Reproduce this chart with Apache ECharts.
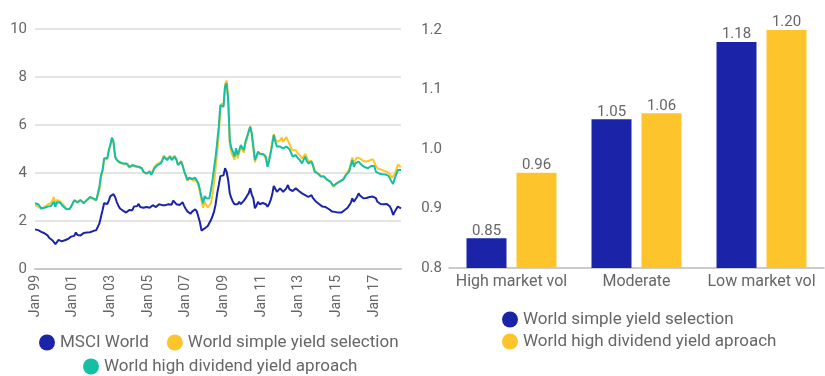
<!DOCTYPE html>
<html>
<head>
<meta charset="utf-8">
<script src="https://cdn.jsdelivr.net/npm/echarts@6/dist/echarts.min.js"></script>
<style>
  html, body { margin: 0; padding: 0; background: #fff; }
  #chart { width: 825px; height: 376px; }
</style>
</head>
<body>
<div id="chart"></div>
<script>
// monthly data, Jan 1999 .. Jun 2018
const startYear = 1999
const tickLabels = ['Jan 99', 'Jan 01', 'Jan 03', 'Jan 05', 'Jan 07', 'Jan 09', 'Jan 11', 'Jan 13', 'Jan 15', 'Jan 17']

const msciWorld = [
  1.65, 1.66, 1.62, 1.60, 1.55, 1.50, 1.49, 1.45, 1.40, 1.30, 1.25, 1.20,
  1.14, 1.04, 1.12, 1.21, 1.18, 1.15, 1.14, 1.20, 1.18, 1.25, 1.28, 1.35,
  1.42, 1.38, 1.52, 1.42, 1.39, 1.40, 1.45, 1.50, 1.55, 1.52, 1.50, 1.53,
  1.53, 1.58, 1.60, 1.62, 1.70, 1.90, 2.18, 2.45, 2.74, 2.80, 2.71, 2.85,
  3.04, 3.10, 3.12, 3.00, 2.80, 2.65, 2.53, 2.45, 2.43, 2.40, 2.35, 2.42,
  2.46, 2.38, 2.45, 2.60, 2.55, 2.62, 2.71, 2.58, 2.55, 2.55, 2.62, 2.58,
  2.64, 2.55, 2.62, 2.66, 2.60, 2.58, 2.65, 2.70, 2.74, 2.66, 2.62, 2.66,
  2.64, 2.70, 2.75, 2.68, 2.85, 2.78, 2.70, 2.65, 2.67, 2.72, 2.78, 2.62,
  2.50, 2.40, 2.32, 2.30, 2.39, 2.35, 2.49, 2.40, 2.18, 1.95, 1.60, 1.62,
  1.69, 1.72, 1.79, 1.85, 2.04, 2.20, 2.39, 2.70, 3.15, 3.50, 3.87, 3.80,
  3.90, 4.20, 4.05, 3.70, 3.15, 2.95, 2.80, 2.70, 2.62, 2.70, 2.80, 2.70,
  2.74, 2.85, 2.94, 3.05, 3.15, 3.36, 3.10, 2.94, 2.53, 2.65, 2.80, 2.70,
  2.67, 2.75, 2.80, 2.70, 2.60, 2.70, 2.87, 3.10, 3.46, 3.54, 3.22, 3.30,
  3.36, 3.30, 3.22, 3.30, 3.36, 3.50, 3.32, 3.28, 3.25, 3.30, 3.36, 3.30,
  3.25, 3.20, 3.15, 3.10, 3.08, 3.05, 3.00, 3.05, 3.08, 2.95, 2.87, 2.80,
  2.74, 2.70, 2.65, 2.60, 2.62, 2.58, 2.57, 2.50, 2.46, 2.40, 2.32, 2.38,
  2.43, 2.35, 2.29, 2.35, 2.39, 2.45, 2.50, 2.55, 2.60, 2.75, 2.94, 2.80,
  2.85, 3.00, 3.15, 3.05, 2.97, 2.95, 2.94, 2.96, 2.98, 3.00, 2.98, 3.02,
  3.08, 2.95, 2.80, 2.75, 2.71, 2.72, 2.70, 2.68, 2.71, 2.65, 2.60, 2.46,
  2.25, 2.39, 2.50, 2.60, 2.64, 2.53
]

const simpleYield = [
  2.65, 2.62, 2.60, 2.55, 2.50, 2.55, 2.58, 2.62, 2.68, 2.70, 2.75, 2.85,
  3.00, 2.72, 2.88, 2.85, 2.82, 2.78, 2.68, 2.60, 2.52, 2.52, 2.50, 2.58,
  2.70, 2.85, 2.82, 2.80, 2.82, 2.88, 2.82, 2.76, 2.82, 2.88, 2.95, 2.98,
  2.96, 2.92, 2.88, 2.85, 2.88, 3.30, 3.80, 4.05, 4.55, 4.60, 4.58, 4.90,
  5.15, 5.42, 5.25, 4.70, 4.55, 4.45, 4.42, 4.40, 4.38, 4.35, 4.38, 4.40,
  4.22, 4.28, 4.30, 4.28, 4.26, 4.22, 4.24, 4.28, 4.18, 4.04, 4.08, 3.96,
  4.00, 4.08, 3.95, 4.10, 4.25, 4.30, 4.38, 4.40, 4.45, 4.55, 4.72, 4.65,
  4.58, 4.65, 4.72, 4.60, 4.65, 4.72, 4.58, 4.36, 4.42, 4.50, 4.32, 4.08,
  3.88, 3.68, 3.75, 3.80, 3.72, 3.66, 3.75, 3.80, 3.50, 3.20, 2.85, 2.55,
  2.80, 2.65, 2.55, 2.60, 2.75, 3.10, 3.60, 4.20, 4.90, 5.60, 6.70, 6.90,
  6.80, 7.70, 7.85, 7.10, 5.20, 4.85, 4.70, 4.55, 4.95, 4.60, 4.85, 5.10,
  4.95, 4.85, 5.25, 5.40, 5.75, 5.95, 5.60, 5.05, 4.45, 4.65, 4.85, 4.80,
  4.80, 4.82, 4.78, 4.72, 4.30, 4.55, 4.90, 5.30, 5.62, 5.40, 5.30, 5.25,
  5.35, 5.47, 5.30, 5.40, 5.50, 5.35, 5.20, 5.05, 4.95, 4.95, 4.95, 4.85,
  4.80, 4.70, 4.60, 4.70, 4.80, 4.65, 4.50, 4.52, 4.50, 4.35, 4.10, 4.02,
  4.00, 3.92, 3.88, 3.90, 3.86, 3.78, 3.72, 3.70, 3.64, 3.55, 3.42, 3.48,
  3.57, 3.60, 3.66, 3.70, 3.74, 3.82, 3.95, 4.05, 4.15, 4.40, 4.65, 4.40,
  4.55, 4.65, 4.70, 4.60, 4.55, 4.50, 4.45, 4.48, 4.50, 4.52, 4.50, 4.58,
  4.60, 4.30, 4.20, 4.18, 4.15, 4.12, 4.10, 4.08, 4.05, 4.00, 3.95, 3.80,
  3.75, 3.95, 4.15, 4.35, 4.30, 4.25
]

const highDividend = [
  2.74, 2.72, 2.70, 2.62, 2.53, 2.55, 2.55, 2.58, 2.60, 2.60, 2.62, 2.70,
  2.80, 2.60, 2.78, 2.80, 2.77, 2.70, 2.60, 2.55, 2.49, 2.52, 2.50, 2.60,
  2.74, 2.87, 2.80, 2.77, 2.80, 2.87, 2.80, 2.74, 2.80, 2.87, 2.95, 3.00,
  2.98, 2.94, 2.90, 2.87, 2.95, 3.43, 3.90, 4.12, 4.61, 4.65, 4.61, 4.96,
  5.20, 5.48, 5.30, 4.68, 4.55, 4.47, 4.45, 4.43, 4.40, 4.37, 4.40, 4.43,
  4.26, 4.30, 4.33, 4.30, 4.29, 4.25, 4.26, 4.30, 4.20, 4.06, 4.10, 3.98,
  4.00, 4.06, 3.92, 4.05, 4.20, 4.25, 4.33, 4.35, 4.40, 4.50, 4.68, 4.60,
  4.54, 4.60, 4.68, 4.54, 4.60, 4.68, 4.55, 4.33, 4.40, 4.47, 4.30, 4.06,
  3.90, 3.71, 3.80, 3.85, 3.75, 3.71, 3.80, 3.85, 3.57, 3.30, 3.00, 2.74,
  3.04, 2.95, 2.87, 2.94, 3.30, 3.71, 4.20, 4.68, 5.30, 5.93, 6.83, 6.90,
  6.76, 7.60, 7.74, 7.04, 5.37, 5.03, 4.89, 4.68, 5.03, 4.75, 4.95, 5.17,
  5.05, 4.96, 5.31, 5.37, 5.72, 5.93, 5.65, 5.10, 4.54, 4.70, 4.89, 4.80,
  4.75, 4.79, 4.72, 4.68, 4.26, 4.50, 4.82, 5.17, 5.58, 5.31, 5.10, 5.03,
  5.10, 5.17, 5.03, 5.08, 5.10, 5.05, 4.99, 4.85, 4.68, 4.72, 4.75, 4.65,
  4.61, 4.50, 4.40, 4.55, 4.68, 4.50, 4.40, 4.45, 4.47, 4.30, 4.06, 4.00,
  3.98, 3.90, 3.85, 3.88, 3.85, 3.78, 3.71, 3.68, 3.64, 3.55, 3.46, 3.50,
  3.57, 3.60, 3.64, 3.68, 3.71, 3.80, 3.92, 4.00, 4.06, 4.30, 4.54, 4.26,
  4.40, 4.40, 4.47, 4.40, 4.33, 4.28, 4.24, 4.22, 4.20, 4.25, 4.29, 4.30,
  4.29, 4.06, 3.98, 3.98, 3.98, 3.95, 3.92, 3.94, 3.92, 3.88, 3.85, 3.64,
  3.54, 3.78, 3.95, 4.12, 4.20, 4.12
]

// bar chart
const regimes = ['High market vol', 'Moderate', 'Low market vol']
const simpleYieldRatio = [0.85, 1.05, 1.18]
const highDividendRatio = [0.96, 1.06, 1.20]

const months = ['Jan', 'Feb', 'Mar', 'Apr', 'May', 'Jun', 'Jul', 'Aug', 'Sep', 'Oct', 'Nov', 'Dec']
const dates = msciWorld.map((v, i) => {
  const y = startYear + Math.floor(i / 12)
  return months[i % 12] + ' ' + String(y).slice(2)
})

const navy = '#1B24A8'
const gold = '#FDC52B'
const teal = '#14BFA6'
const textGray = '#666'
const font = 'Roboto'

const legendText = { fontSize: 17, color: textGray, fontFamily: font }

const myChart = echarts.init(document.getElementById('chart'))
const option = {
  animation: false,
  textStyle: { fontFamily: font },
  legend: [
    {
      data: ['MSCI World', 'World simple yield selection'],
      left: 34,
      top: 329,
      icon: 'circle',
      itemWidth: 16,
      itemHeight: 16,
      itemGap: 18,
      textStyle: legendText,
    },
    {
      data: ['World high dividend yield aproach'],
      left: 78,
      top: 353,
      icon: 'circle',
      itemWidth: 16,
      itemHeight: 16,
      textStyle: legendText,
    },
    {
      data: ['Simple yield bars', 'High dividend bars'],
      formatter: (name) => name === 'Simple yield bars' ? 'World simple yield selection' : 'World high dividend yield aproach',
      orient: 'vertical',
      left: 497,
      top: 306,
      icon: 'circle',
      itemWidth: 16,
      itemHeight: 16,
      itemGap: 5,
      textStyle: legendText,
    },
  ],
  grid: [
    { left: 35, top: 29, width: 366, height: 240 },
    { left: 449, top: 30, width: 375, height: 238 },
  ],
  xAxis: [
    {
      type: 'category',
      gridIndex: 0,
      data: dates,
      boundaryGap: false,
      axisLine: { lineStyle: { color: '#c8c8c8', width: 2 } },
      axisTick: { show: false },
      axisLabel: {
        rotate: 90,
        interval: (idx, val) => tickLabels.indexOf(val) >= 0,
        color: textGray,
        fontSize: 14,
        margin: 6,
        fontFamily: font,
      },
      splitLine: { show: false },
    },
    {
      type: 'category',
      gridIndex: 1,
      data: regimes,
      axisLine: { lineStyle: { color: '#bbb', width: 1.5 } },
      axisTick: { show: false },
      axisLabel: { color: textGray, fontSize: 16, margin: 6, interval: 0, fontFamily: font },
    },
  ],
  yAxis: [
    {
      type: 'value',
      gridIndex: 0,
      min: 0,
      max: 10,
      interval: 2,
      axisLine: { show: false },
      axisTick: { show: false },
      axisLabel: { color: textGray, fontSize: 15, margin: 8, fontFamily: font },
      splitLine: { lineStyle: { color: '#e4e4e4', width: 2 } },
    },
    {
      type: 'value',
      gridIndex: 1,
      min: 0.8,
      max: 1.2,
      interval: 0.1,
      axisLine: { show: false },
      axisTick: { show: false },
      axisLabel: {
        color: textGray,
        fontSize: 15,
        margin: 7,
        fontFamily: font,
        formatter: (v) => v.toFixed(1),
      },
      splitLine: { show: false },
    },
  ],
  series: [
    {
      name: 'MSCI World',
      type: 'line',
      xAxisIndex: 0,
      yAxisIndex: 0,
      data: msciWorld,
      showSymbol: false,
      color: navy,
      lineStyle: { width: 2, color: navy },
      z: 3,
    },
    {
      name: 'World simple yield selection',
      type: 'line',
      xAxisIndex: 0,
      yAxisIndex: 0,
      data: simpleYield,
      showSymbol: false,
      color: gold,
      lineStyle: { width: 2, color: gold },
      z: 2,
    },
    {
      name: 'World high dividend yield aproach',
      type: 'line',
      xAxisIndex: 0,
      yAxisIndex: 0,
      data: highDividend,
      showSymbol: false,
      color: teal,
      lineStyle: { width: 2, color: teal },
      z: 3,
    },
    {
      name: 'Simple yield bars',
      type: 'bar',
      xAxisIndex: 1,
      yAxisIndex: 1,
      data: simpleYieldRatio,
      barWidth: 40,
      barGap: '25%',
      color: navy,
      label: {
        show: true,
        position: 'top',
        color: textGray,
        fontSize: 15,
        distance: 0,
        fontFamily: font,
        formatter: (p) => p.value.toFixed(2),
      },
    },
    {
      name: 'High dividend bars',
      type: 'bar',
      xAxisIndex: 1,
      yAxisIndex: 1,
      data: highDividendRatio,
      barWidth: 40,
      color: gold,
      label: {
        show: true,
        position: 'top',
        color: textGray,
        fontSize: 15,
        distance: 0,
        fontFamily: font,
        formatter: (p) => p.value.toFixed(2),
      },
    },
  ],
}
myChart.setOption(option)
</script>
</body>
</html>
